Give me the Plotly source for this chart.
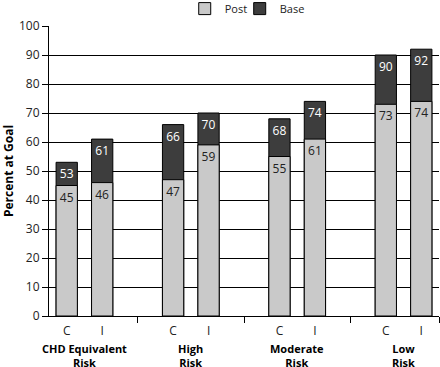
import plotly.graph_objects as go

groups = ["CHD Equivalent<br>Risk", "High<br>Risk", "Moderate<br>Risk", "Low<br>Risk"]
arms = ["C", "I"]
x_pos = [0, 1, 3, 4, 6, 7, 9, 10]
arm_labels = ["C", "I", "C", "I", "C", "I", "C", "I"]
post_vals = [45, 46, 47, 59, 55, 61, 73, 74]
base_vals = [53, 61, 66, 70, 68, 74, 90, 92]
group_centers = [0.5, 3.5, 6.5, 9.5]
boundary_ticks = [2, 5, 8, 10.5]
y_ticks = list(range(0, 101, 10))

FONT = "Open Sans"
LIGHT = "#c9c9c9"
DARK = "#3d3d3d"

fig = go.Figure()
fig.add_trace(go.Bar(
    x=x_pos, y=base_vals, name="Base", width=0.6, legend="legend2",
    marker=dict(color=DARK, line=dict(color="black", width=1)),
    text=[str(v) for v in base_vals], textposition="inside", insidetextanchor="end",
    textfont=dict(color="white", size=12, family=FONT), textangle=0,
    hoverinfo="y",
))
fig.add_trace(go.Bar(
    x=x_pos, y=post_vals, name="Post", width=0.6, legend="legend",
    marker=dict(color=LIGHT, line=dict(color="black", width=1)),
    text=[str(v) for v in post_vals], textposition="inside", insidetextanchor="end",
    textfont=dict(color="#222222", size=12, family=FONT), textangle=0,
    hoverinfo="y",
))

for xc, g in zip(group_centers, groups):
    fig.add_annotation(x=xc, xref="x", y=-0.08, yref="paper", text="<b>" + g + "</b>",
                       showarrow=False, yanchor="top", align="center",
                       font=dict(family=FONT, size=11, color="black"))

leg_common = dict(orientation="h", y=1.11, yanchor="top", xanchor="left",
                  font=dict(size=11, family=FONT), itemwidth=30, bgcolor="rgba(0,0,0,0)")

fig.update_layout(
    width=440, height=367,
    margin=dict(l=49, r=1, t=26, b=51, autoexpand=False),
    barmode="overlay",
    plot_bgcolor="white", paper_bgcolor="white",
    font=dict(family=FONT, size=12, color="#222222"),
    showlegend=True,
    legend=dict(x=0.348, **leg_common),
    legend2=dict(x=0.489, **leg_common),
    uniformtext=dict(minsize=8, mode="show"),
)
fig.update_xaxes(
    range=[-0.5, 10.5], tickmode="array", tickvals=x_pos, ticktext=arm_labels,
    ticks="", showgrid=False, zeroline=False, showline=True, linecolor="black", linewidth=1,
    tickfont=dict(size=12, family=FONT, color="#222222"), ticklabelstandoff=4,
    minor=dict(tickmode="array", tickvals=boundary_ticks, ticks="outside", ticklen=6,
               tickcolor="black", tickwidth=1, showgrid=False),
)
fig.update_yaxes(
    range=[0, 100], tickmode="array", tickvals=y_ticks, ticks="outside", ticklen=6,
    tickcolor="black", showgrid=True, gridcolor="black", gridwidth=1,
    showline=True, linecolor="black", linewidth=1, zeroline=False,
    tickfont=dict(size=12, family=FONT, color="#222222"),
    title=dict(text="<b>Percent at Goal</b>", font=dict(size=12, family=FONT, color="black"), standoff=8),
)

fig.write_html("out.html", config={"displayModeBar": False},
               post_script="document.body.style.margin='0';document.body.style.padding='0';")
